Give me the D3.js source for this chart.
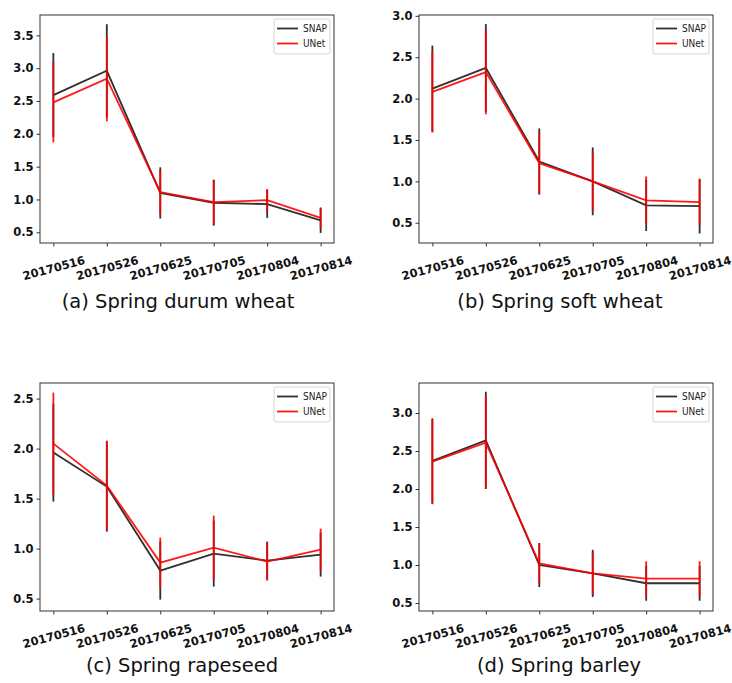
<!DOCTYPE html>
<html>
<head>
<meta charset="utf-8">
<script src="https://cdn.jsdelivr.net/npm/d3@7"></script>
<style>
body { margin: 0; background: #fff; }
</style>
</head>
<body>
<script>
const svgWidth = 732
const svgHeight = 683

const dates = ["20170516", "20170526", "20170625", "20170705", "20170804", "20170814"]

// (a) spring durum wheat
const durumSnap = [2.59, 2.96, 1.10, 0.95, 0.93, 0.68]
const durumSnapErr = [0.64, 0.71, 0.39, 0.35, 0.21, 0.19]
const durumUnet = [2.48, 2.84, 1.11, 0.96, 0.99, 0.72]
const durumUnetErr = [0.61, 0.65, 0.34, 0.34, 0.17, 0.16]
const durumTicks = [0.5, 1.0, 1.5, 2.0, 2.5, 3.0, 3.5]

// (b) spring soft wheat
const softSnap = [2.12, 2.37, 1.24, 1.00, 0.71, 0.70]
const softSnapErr = [0.52, 0.53, 0.40, 0.41, 0.31, 0.33]
const softUnet = [2.08, 2.32, 1.22, 1.00, 0.77, 0.75]
const softUnetErr = [0.49, 0.51, 0.37, 0.36, 0.29, 0.28]
const softTicks = [0.5, 1.0, 1.5, 2.0, 2.5, 3.0]

// (c) spring rapeseed
const rapeSnap = [1.96, 1.62, 0.78, 0.95, 0.88, 0.94]
const rapeSnapErr = [0.49, 0.45, 0.29, 0.33, 0.19, 0.22]
const rapeUnet = [2.05, 1.63, 0.86, 1.01, 0.87, 0.99]
const rapeUnetErr = [0.51, 0.45, 0.25, 0.32, 0.19, 0.21]
const rapeTicks = [0.5, 1.0, 1.5, 2.0, 2.5]

// (d) spring barley
const barleySnap = [2.37, 2.64, 1.00, 0.89, 0.76, 0.76]
const barleySnapErr = [0.56, 0.64, 0.29, 0.31, 0.23, 0.23]
const barleyUnet = [2.36, 2.61, 1.02, 0.89, 0.82, 0.82]
const barleyUnetErr = [0.56, 0.61, 0.26, 0.28, 0.23, 0.23]
const barleyTicks = [0.5, 1.0, 1.5, 2.0, 2.5, 3.0]

const seriesNames = ["SNAP", "UNet"]
const colorSnap = "#1a1a1a"
const colorUnet = "#ff0000"

const panels = [
    { title: "(a) Spring durum wheat", snap: durumSnap, snapErr: durumSnapErr, unet: durumUnet, unetErr: durumUnetErr,
      ticks: durumTicks, yDomain: [0.337, 3.81], left: 40, top: 15, titleX: 178, titleY: 308 },
    { title: "(b) Spring soft wheat", snap: softSnap, snapErr: softSnapErr, unet: softUnet, unetErr: softUnetErr,
      ticks: softTicks, yDomain: [0.255, 3.01], left: 419, top: 15, titleX: 560, titleY: 308 },
    { title: "(c) Spring rapeseed", snap: rapeSnap, snapErr: rapeSnapErr, unet: rapeUnet, unetErr: rapeUnetErr,
      ticks: rapeTicks, yDomain: [0.376, 2.656], left: 40, top: 383, titleX: 182, titleY: 672 },
    { title: "(d) Spring barley", snap: barleySnap, snapErr: barleySnapErr, unet: barleyUnet, unetErr: barleyUnetErr,
      ticks: barleyTicks, yDomain: [0.395, 3.395], left: 419, top: 383, titleX: 559, titleY: 672 }
]

const plotWidth = 294
const plotHeight = 228

const svg = d3.select("body").append("svg")
    .attr("width", svgWidth)
    .attr("height", svgHeight)

panels.forEach(p => {
    const g = svg.append("g")
        .attr("transform", `translate(${p.left}, ${p.top})`)

    const x = d3.scalePoint()
        .domain(dates)
        .range([0, plotWidth])
        .padding(0.25)

    const y = d3.scaleLinear()
        .domain(p.yDomain)
        .range([plotHeight, 0])

    // axes
    const yAxis = g.append("g")
        .call(d3.axisLeft(y).tickValues(p.ticks).tickFormat(d3.format(".1f")).tickSize(3.5).tickPadding(3))
    yAxis.select(".domain").remove()
    yAxis.selectAll("line").attr("stroke", "#333")
    yAxis.selectAll("text")
        .attr("font-family", "DejaVu Sans")
        .attr("font-weight", "bold")
        .attr("font-size", 11.5)
        .attr("fill", "#111")

    const xAxis = g.append("g")
        .attr("transform", `translate(0, ${plotHeight})`)
        .call(d3.axisBottom(x).tickSize(3.5))
    xAxis.select(".domain").remove()
    xAxis.selectAll("line").attr("stroke", "#333")
    xAxis.selectAll("text")
        .attr("font-family", "DejaVu Sans")
        .attr("font-weight", "bold")
        .attr("font-size", 11.5)
        .attr("fill", "#111")
        .attr("y", 0)
        .attr("dy", "0.35em")
        .attr("text-anchor", "middle")
        .attr("transform", "translate(0, 25) rotate(-15)")

    g.append("rect")
        .attr("width", plotWidth)
        .attr("height", plotHeight)
        .attr("fill", "none")
        .attr("stroke", "#333")
        .attr("stroke-width", 1)

    const drawSeries = (vals, errs, color) => {
        g.append("g").selectAll("line")
            .data(dates)
            .join("line")
            .attr("x1", d => x(d))
            .attr("x2", d => x(d))
            .attr("y1", (d, i) => y(vals[i] - errs[i]))
            .attr("y2", (d, i) => y(vals[i] + errs[i]))
            .attr("stroke", color)
            .attr("stroke-width", 1.8)
            .attr("opacity", 0.9)

        const line = d3.line()
            .x((d, i) => x(dates[i]))
            .y(d => y(d))

        g.append("path")
            .attr("d", line(vals))
            .attr("fill", "none")
            .attr("stroke", color)
            .attr("stroke-width", 1.8)
            .attr("opacity", 0.9)
    }

    drawSeries(p.snap, p.snapErr, colorSnap)
    drawSeries(p.unet, p.unetErr, colorUnet)

    // legend
    const legend = g.append("g")
        .attr("transform", `translate(${plotWidth - 60}, 4)`)
    legend.append("rect")
        .attr("width", 56)
        .attr("height", 35)
        .attr("rx", 2)
        .attr("fill", "#fff")
        .attr("fill-opacity", 0.8)
        .attr("stroke", "#ccc")
        .attr("stroke-width", 0.8)
    seriesNames.forEach((name, i) => {
        const ly = 9.5 + i * 15
        legend.append("line")
            .attr("x1", 3).attr("x2", 24)
            .attr("y1", ly).attr("y2", ly)
            .attr("stroke", i === 0 ? colorSnap : colorUnet)
            .attr("stroke-width", 1.8)
            .attr("opacity", 0.9)
        legend.append("text")
            .attr("x", 29)
            .attr("y", ly)
            .attr("dy", "0.35em")
            .attr("font-family", "DejaVu Sans Condensed, DejaVu Sans")
            .attr("font-stretch", "condensed")
            .attr("font-size", 10)
            .attr("fill", "#222")
            .text(name)
    })

    svg.append("text")
        .attr("x", p.titleX)
        .attr("y", p.titleY)
        .attr("text-anchor", "middle")
        .attr("font-family", "DejaVu Sans")
        .attr("font-size", 19.5)
        .attr("fill", "#111")
        .text(p.title)
})
</script>
</body>
</html>
